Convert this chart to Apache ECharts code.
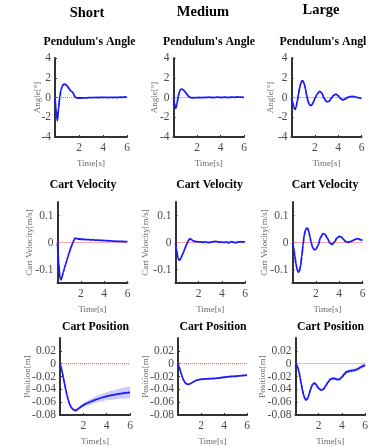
<!DOCTYPE html>
<html>
<head>
<meta charset="utf-8">
<script src="https://cdn.jsdelivr.net/npm/echarts@6/dist/echarts.min.js"></script>
<style>
html,body{margin:0;padding:0;background:#fff;}
#chart{width:386px;height:447px;}
</style>
</head>
<body>
<div id="chart"></div>
<script>
// ---- data ----
const T = [0,0.1,0.2,0.3,0.4,0.5,0.6,0.7,0.8,0.9,1.0,1.1,1.2,1.3,1.4,1.5,1.6,1.7,1.8,1.9,2.0,
  2.2,2.4,2.6,2.8,3.0,3.2,3.4,3.6,3.8,4.0,4.2,4.4,4.6,4.8,5.0,5.2,5.4,5.6,5.8,6.0];

const COLUMNS = ['Short','Medium','Large'];
const ROW_TITLES = ["Pendulum's Angle",'Cart Velocity','Cart Position'];
const Y_NAMES = ['Angle[°]','Cart Velocity[m/s]','Position[m]'];
const X_NAME = 'Time[s]';
const X_TICKS = [2,4,6];
const ANGLE_TICKS = [-4,-2,0,2,4];
const VEL_TICKS = [-0.1,0,0.1];
const POS_TICKS = [-0.08,-0.06,-0.04,-0.02,0,0.02];

const SHORT_ANGLE = [0,-1.4,-2.35,-1.1,0.1,0.75,1.15,1.32,1.35,1.3,1.18,1.02,0.85,0.68,0.6,0.5,0.22,0.03,-0.04,-0.05,-0.05,
  -0.05,-0.04,-0.04,-0.02,-0.01,-0.02,0.01,-0.01,0.01,0.0,0.02,-0.01,0.01,0.0,0.02,0.0,0.03,0.02,0.05,0.01];
const MEDIUM_ANGLE = [0,-0.7,-1.1,-0.6,0.1,0.55,0.8,0.85,0.8,0.7,0.55,0.4,0.25,0.1,0.02,-0.02,-0.03,-0.02,-0.03,-0.02,-0.01,
  0.0,-0.02,0.01,0.0,0.03,0.01,-0.01,0.02,0.04,0.0,0.02,0.03,0.0,0.01,0.04,0.02,0.05,0.03,0.04,0.02];
const LARGE_ANGLE = [0,-0.5,-1.0,-1.2,-0.95,-0.35,0.35,1.0,1.45,1.7,1.65,1.35,0.85,0.25,-0.3,-0.65,-0.8,-0.8,-0.65,-0.4,-0.1,
  0.35,0.62,0.45,-0.1,-0.42,-0.4,-0.1,0.22,0.35,0.18,-0.1,-0.25,-0.15,0.0,0.08,0.1,0.08,0.02,-0.04,-0.08];

const SHORT_VEL = [0,-0.075,-0.13,-0.138,-0.125,-0.11,-0.095,-0.08,-0.066,-0.052,-0.038,-0.025,-0.013,-0.003,0.008,0.016,0.015,0.014,0.013,0.013,0.012,
  0.012,0.011,0.011,0.010,0.010,0.009,0.009,0.008,0.008,0.007,0.007,0.006,0.006,0.005,0.005,0.004,0.004,0.004,0.003,0.003];
const MEDIUM_VEL = [0,-0.03,-0.055,-0.065,-0.064,-0.055,-0.045,-0.035,-0.024,-0.013,-0.003,0.007,0.012,0.013,0.010,0.007,0.005,0.004,0.003,0.003,0.002,
  0.002,0.001,0.002,0.0,0.001,0.002,0.004,0.003,0.001,0.002,0.0,0.002,-0.001,0.003,0.001,-0.001,0.002,0.003,0.002,0.002];
const LARGE_VEL = [0,-0.02,-0.05,-0.08,-0.1,-0.11,-0.105,-0.085,-0.05,-0.01,0.025,0.045,0.053,0.052,0.04,0.02,0.0,-0.015,-0.024,-0.027,-0.025,
  -0.01,0.018,0.033,0.03,0.015,-0.002,-0.007,0.002,0.016,0.023,0.02,0.01,0.002,0.001,0.004,0.008,0.012,0.014,0.011,0.008];

const SHORT_POS = [0,-0.006,-0.014,-0.023,-0.032,-0.041,-0.049,-0.056,-0.062,-0.066,-0.069,-0.071,-0.0722,-0.073,-0.0725,-0.0712,-0.0698,-0.0684,-0.067,-0.0658,-0.0647,
  -0.0627,-0.061,-0.0594,-0.0579,-0.0565,-0.0552,-0.054,-0.0529,-0.0518,-0.0508,-0.05,-0.0492,-0.0485,-0.0478,-0.0472,-0.0466,-0.0461,-0.0456,-0.0451,-0.0446];
const MEDIUM_POS = [0,-0.005,-0.011,-0.017,-0.022,-0.026,-0.029,-0.031,-0.032,-0.0322,-0.0318,-0.031,-0.0298,-0.0287,-0.0277,-0.0268,-0.026,-0.0255,-0.025,-0.0247,-0.0245,
  -0.0241,-0.0238,-0.0236,-0.0234,-0.0232,-0.023,-0.0226,-0.0222,-0.0217,-0.0212,-0.0207,-0.0203,-0.02,-0.0198,-0.0196,-0.0193,-0.019,-0.0186,-0.0182,-0.0178];
const LARGE_POS = [0,-0.002,-0.006,-0.013,-0.022,-0.032,-0.041,-0.049,-0.054,-0.0565,-0.0555,-0.052,-0.046,-0.04,-0.035,-0.032,-0.0305,-0.031,-0.033,-0.036,-0.0385,
  -0.0412,-0.04,-0.035,-0.029,-0.0245,-0.023,-0.0232,-0.0245,-0.0245,-0.021,-0.0165,-0.013,-0.0118,-0.011,-0.0105,-0.0097,-0.008,-0.0058,-0.004,-0.002];

// half-width of the shaded spread around the position curves
const SHORT_POS_BAND = [0,0.0005,0.0008,0.001,0.001,0.001,0.001,0.001,0.0012,0.0013,0.0014,
  0.0015,0.0017,0.0019,0.0021,0.0023,0.0025,0.0027,0.0029,0.0031,0.0033,
  0.0036,0.0039,0.0042,0.0045,0.0048,0.0051,0.0054,0.0057,0.006,0.0063,0.0066,0.0069,0.0072,0.0075,0.0078,0.0081,0.0084,0.0087,0.009,0.0092];
const MEDIUM_POS_BAND = [0,0.0003,0.0005,0.0006,0.0007,0.0008,0.0008,0.0008,0.0008,0.0009,0.0009,0.0009,0.0009,0.0009,0.001,0.001,0.001,0.001,0.001,0.001,0.001,
  0.001,0.001,0.0011,0.0011,0.0011,0.0011,0.0012,0.0012,0.0012,0.0012,0.0013,0.0013,0.0013,0.0013,0.0014,0.0014,0.0014,0.0014,0.0015,0.0015];
const LARGE_POS_BAND = [0,0.0005,0.0008,0.001,0.0012,0.0014,0.0015,0.0016,0.0017,0.0018,0.0018,0.0019,0.0019,0.002,0.002,0.002,0.002,0.002,0.0021,0.0021,0.0021,
  0.0022,0.0022,0.0023,0.0023,0.0024,0.0024,0.0025,0.0025,0.0026,0.0026,0.0027,0.0027,0.0028,0.0028,0.0029,0.0029,0.003,0.003,0.003,0.003];

const REF_VALUE = 0;

// ---- layout ----
const GRID = [
  [[55,58,72,79],[173.5,58,70.5,79],[291.5,58,70,79]],
  [[57.5,202,70,81],[175.5,202,69.5,81],[292.5,202,70,81]],
  [[60,338,70,79],[178,338,69,79],[295.5,338,69.5,79]]
];
const Y_NAME_GAP = [[13,14.5,16.5],[23.5,25.5,23],[28,28,28]];

const ROWS = [
  {data:[SHORT_ANGLE,MEDIUM_ANGLE,LARGE_ANGLE], band:null, min:-4, max:4, ticks:ANGLE_TICKS},
  {data:[SHORT_VEL,MEDIUM_VEL,LARGE_VEL], band:null, min:-0.15, max:0.15, ticks:VEL_TICKS},
  {data:[SHORT_POS,MEDIUM_POS,LARGE_POS], band:[SHORT_POS_BAND,MEDIUM_POS_BAND,LARGE_POS_BAND], min:-0.08, max:0.04, ticks:POS_TICKS}
];

const SERIF = '"Liberation Serif","Times New Roman",serif';
const AXIS_COLOR = '#333333';
const LABEL_COLOR = '#4a4a4a';
const NAME_COLOR = '#6a6a6a';
const BLUE = '#1a1aff';

const grid = [], xAxis = [], yAxis = [], series = [];
let idx = 0;
ROWS.forEach((row, r) => {
  row.data.forEach((vals, c) => {
    const g = GRID[r][c];
    grid.push({left:g[0], top:g[1], width:g[2], height:g[3], containLabel:false});
    xAxis.push({
      type:'value', gridIndex:idx, min:0, max:6,
      name:X_NAME, nameLocation:'middle', nameGap:22, nameMoveOverlap:false,
      nameTextStyle:{fontFamily:SERIF, fontSize:9, color:NAME_COLOR},
      axisLine:{show:true, onZero:false, lineStyle:{color:AXIS_COLOR, width:2}},
      axisTick:{show:true, inside:true, length:2, customValues:X_TICKS, lineStyle:{color:AXIS_COLOR}},
      axisLabel:{show:true, customValues:X_TICKS, margin:5, fontFamily:SERIF, fontSize:11.5, color:LABEL_COLOR},
      splitLine:{show:false}
    });
    yAxis.push({
      type:'value', gridIndex:idx, min:row.min, max:row.max,
      name:Y_NAMES[r], nameLocation:'middle', nameGap:Y_NAME_GAP[r][c], nameMoveOverlap:false,
      nameTextStyle:{fontFamily:SERIF, fontSize:9, color:NAME_COLOR},
      axisLine:{show:true, onZero:false, lineStyle:{color:AXIS_COLOR, width:2}},
      axisTick:{show:true, inside:true, length:2, customValues:row.ticks, lineStyle:{color:AXIS_COLOR}},
      axisLabel:{show:true, customValues:row.ticks, margin:4, fontFamily:SERIF, fontSize:11.5, color:LABEL_COLOR},
      splitLine:{show:false}
    });
    if (row.band) {
      const b = row.band[c];
      const lo = vals.map((v,i)=>v-b[i]);
      const hi = vals.map((v,i)=>v+b[i]);
      series.push({
        type:'custom', xAxisIndex:idx, yAxisIndex:idx, silent:true, z:1,
        data:T.map((t,i)=>[t, lo[i], hi[i]]),
        encode:{x:0, y:[1,2]},
        renderItem:(params, api)=>{
          if (params.dataIndex !== 0) return null;
          const pts = [];
          for (let i=0;i<T.length;i++) pts.push(api.coord([T[i], hi[i]]));
          for (let i=T.length-1;i>=0;i--) pts.push(api.coord([T[i], lo[i]]));
          return {type:'polygon', shape:{points:pts, smooth:0.2}, style:{fill:'rgba(110,110,250,0.35)'}};
        }
      });
    }
    series.push({
      type:'line', xAxisIndex:idx, yAxisIndex:idx,
      data:T.map(t=>[t, REF_VALUE]), showSymbol:false,
      lineStyle:{color:'#ff5050', width:1, type:'dotted'}, z:2
    });
    series.push({
      type:'line', xAxisIndex:idx, yAxisIndex:idx,
      data:T.map((t,i)=>[t, vals[i]]), showSymbol:false, smooth:0.3, smoothMonotone:'x',
      lineStyle:{color:BLUE, width:1.8}, z:3
    });
    idx++;
  });
});

// titles
const COL_TITLE_POS = [[87,13],[203,12],[321,10.5]];
const ROW_TITLE_POS = [
  [[89.5,42],[209,42],[279.5,42]],
  [[83,185],[209.5,185],[325,185]],
  [[95.5,327],[213,327],[330.5,327]]
];
const graphic = [];
COLUMNS.forEach((txt,c)=>{
  graphic.push({type:'text', x:COL_TITLE_POS[c][0], y:COL_TITLE_POS[c][1],
    style:{text:txt, font:'bold 14.5px ' + SERIF, fill:'#000', align:'center', verticalAlign:'middle'}});
});
ROW_TITLES.forEach((txt,r)=>{
  [0,1,2].forEach(c=>{
    const p = ROW_TITLE_POS[r][c];
    const clipped = (r===0 && c===2);
    const st = {text:txt, font:'bold 11.8px ' + SERIF, fill:'#000',
      align: clipped ? 'left' : 'center', verticalAlign:'middle'};
    if (clipped) { st.width = 90; st.overflow = 'truncate'; st.ellipsis = ''; }
    graphic.push({type:'text', x:p[0], y:p[1], style:st});
  });
});

const chart = echarts.init(document.getElementById('chart'), null, {renderer:'canvas'});
chart.setOption({
  backgroundColor:'#ffffff',
  animation:false,
  grid, xAxis, yAxis, series, graphic
});
</script>
</body>
</html>
